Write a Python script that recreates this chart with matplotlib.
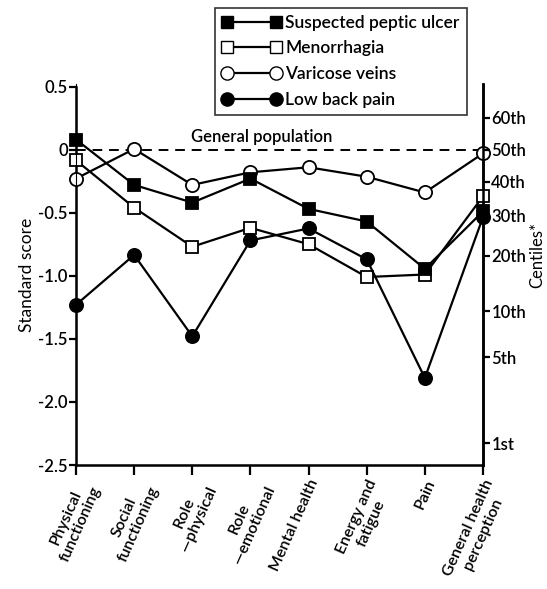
import matplotlib
matplotlib.use("Agg")
import matplotlib.pyplot as plt
from matplotlib.lines import Line2D

plt.rcParams['font.family'] = ['Lato', 'DejaVu Sans']
plt.rcParams['font.weight'] = 'semibold'

categories = ["Physical\nfunctioning", "Social\nfunctioning", "Role\n\u2014physical",
              "Role\n\u2014emotional", "Mental health", "Energy and\nfatigue", "Pain",
              "General health\nperception"]
peptic_ulcer = [0.08, -0.28, -0.42, -0.23, -0.47, -0.57, -0.945, -0.49]
menorrhagia = [-0.085, -0.46, -0.77, -0.62, -0.75, -1.01, -0.99, -0.37]
varicose_veins = [-0.23, 0.005, -0.28, -0.18, -0.14, -0.215, -0.34, -0.03]
low_back_pain = [-1.23, -0.835, -1.48, -0.72, -0.625, -0.87, -1.81, -0.535]

left_ticks = [0.5, 0, -0.5, -1.0, -1.5, -2.0, -2.5]
left_labels = ["0.5", "0", "-0.5", "-1.0", "-1.5", "-2.0", "-2.5"]
centile_labels = ["60th", "50th", "40th", "30th", "20th", "10th", "5th", "1st"]
centile_z = [0.2533, 0.0, -0.2533, -0.5244, -0.8416, -1.2816, -1.6449, -2.3263]

fig = plt.figure(figsize=(5.47, 5.89), dpi=100)
ax = fig.add_axes([76/547, 1-465/589, (483-76)/547, (465-84)/589])
x = list(range(len(categories)))

lw = 1.6
ms_c = 9.5
ms_s = 8.0
mew = 1.3

ax.axhline(0, color='black', lw=1.4, ls=(0, (5, 3.5)), zorder=1)
ax.text(3.2, 0.04, "General population", ha='center', va='bottom', fontsize=12)

ax.plot(x, varicose_veins, color='black', lw=lw, marker='o', ms=ms_c, mfc='white',
        mec='black', mew=mew, zorder=3, clip_on=False, label='Varicose veins')
ax.plot(x, menorrhagia, color='black', lw=lw, marker='s', ms=ms_s, mfc='white',
        mec='black', mew=mew, zorder=4, clip_on=False, label='Menorrhagia')
ax.plot(x, peptic_ulcer, color='black', lw=lw, marker='s', ms=ms_s, mfc='black',
        mec='black', mew=mew, zorder=5, clip_on=False, label='Suspected peptic ulcer')
ax.plot(x, low_back_pain, color='black', lw=lw, marker='o', ms=ms_c, mfc='black',
        mec='black', mew=mew, zorder=6, clip_on=False, label='Low back pain')

ax.set_xlim(0, len(categories) - 1)
ax.set_ylim(-2.5, 0.52)
ax.spines['top'].set_visible(False)
for s in ['left', 'right', 'bottom']:
    ax.spines[s].set_linewidth(1.8)
ax.spines['left'].set_bounds(-2.5, 0.5)

ax.set_yticks(left_ticks)
ax.set_yticklabels(left_labels, fontsize=12)
ax.tick_params(axis='y', direction='out', length=5, width=1.6, pad=1)
ax.set_xticks(x)
ax.set_xticklabels(categories, fontsize=11.5, rotation=66, ha='right', va='top',
                   rotation_mode='anchor', multialignment='center')
ax.tick_params(axis='x', direction='out', length=7, width=1.6, pad=2)
ax.set_ylabel("Standard score", fontsize=12.5, labelpad=2)

ax2 = ax.twinx()
ax2.set_ylim(ax.get_ylim())
ax2.spines['top'].set_visible(False)
ax2.spines['right'].set_linewidth(1.8)
ax2.set_yticks(centile_z)
ax2.set_yticklabels(centile_labels, fontsize=12)
ax2.tick_params(axis='y', direction='out', length=5, width=1.6, pad=1)
ax2.set_ylabel("Centiles*", fontsize=12, labelpad=0)
ax2.yaxis.set_label_coords(1.114, 0.55)

handles = [
    Line2D([], [], color='black', lw=lw, marker='s', ms=ms_s, mfc='black', mec='black'),
    Line2D([], [], color='black', lw=lw, marker='s', ms=ms_s, mfc='white', mec='black'),
    Line2D([], [], color='black', lw=lw, marker='o', ms=ms_c, mfc='white', mec='black'),
    Line2D([], [], color='black', lw=lw, marker='o', ms=ms_c, mfc='black', mec='black'),
]
labels = ['Suspected peptic ulcer', 'Menorrhagia', 'Varicose veins', 'Low back pain']
leg = fig.legend(handles, labels, loc='upper left', bbox_to_anchor=(215/547, 1-8/589),
                 bbox_transform=fig.transFigure, numpoints=2, handlelength=3.4,
                 fontsize=12.5, frameon=True, fancybox=False, borderpad=0.4,
                 labelspacing=0.55, handletextpad=0.25, borderaxespad=0)
leg.get_frame().set_edgecolor('black')
leg.get_frame().set_linewidth(1.2)

fig.savefig("out.png", dpi=100)
